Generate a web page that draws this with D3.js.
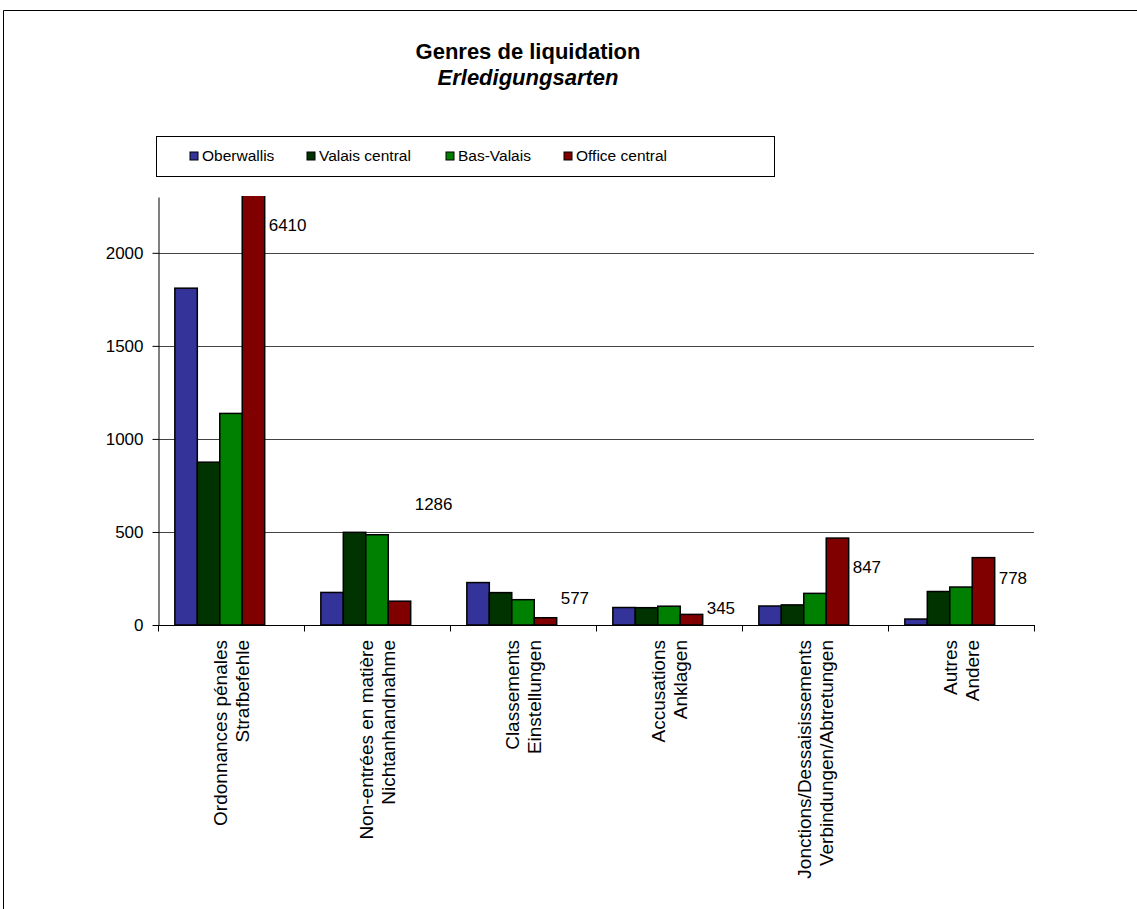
<!DOCTYPE html>
<html>
<head>
<meta charset="utf-8">
<script src="https://cdn.jsdelivr.net/npm/d3@7"></script>
<style>
  body { margin: 0; background: #fff; }
  text { font-family: "Liberation Sans", Arial, sans-serif; fill: #000; }
</style>
</head>
<body>
<div id="chart"></div>
<script>
const categories = [
  ['Ordonnances pénales', 'Strafbefehle'],
  ['Non-entrées en matière', 'Nichtanhandnahme'],
  ['Classements', 'Einstellungen'],
  ['Accusations', 'Anklagen'],
  ['Jonctions/Dessaisissements', 'Verbindungen/Abtretungen'],
  ['Autres', 'Andere']
];
const series = ['Oberwallis', 'Valais central', 'Bas-Valais', 'Office central'];
const oberwallis = [1810, 175, 228, 94, 102, 32];
const valaisCentral = [875, 498, 174, 93, 108, 180];
const basValais = [1137, 485, 136, 101, 170, 204];
const officeCentral = [2588, 128, 39, 57, 467, 362];
const totals = [6410, 1286, 577, 345, 847, 778];
// level (in chart units) where each total label sits
const labelLevel = [2150, 650, 145, 93, 313, 251];
const yTicks = [0, 500, 1000, 1500, 2000];
const colors = ['#333399', '#003300', '#008000', '#800000'];

const values = [oberwallis, valaisCentral, basValais, officeCentral];

const w = 1137, h = 909;
const padLeft = 158, padRight = 1034, padTop = 197, padBottom = 625;

const svg = d3.select('#chart').append('svg')
  .attr('width', w).attr('height', h);

// outer frame
svg.append('path')
  .attr('d', `M3.5,${h} L3.5,10.5 L${w},10.5`)
  .attr('fill', 'none').attr('stroke', '#000').attr('stroke-width', 1);

// title
svg.append('text').attr('x', 528).attr('y', 59).attr('text-anchor', 'middle')
  .style('font-size', '22px').style('font-weight', 'bold')
  .text('Genres de liquidation');
svg.append('text').attr('x', 528).attr('y', 85).attr('text-anchor', 'middle')
  .style('font-size', '22px').style('font-weight', 'bold').style('font-style', 'italic')
  .text('Erledigungsarten');

const x0 = d3.scaleBand()
  .domain(d3.range(categories.length))
  .range([padLeft, padRight]);

// five slots per category (the last one is empty, holds the total label)
const slot = x0.bandwidth() / (5 + 1.5);
const x1 = d3.scaleBand()
  .domain(d3.range(5))
  .range([slot * 0.75, slot * 5.75]);

const y = d3.scaleLinear().domain([0, 2300]).range([padBottom, padTop]);

// gridlines
svg.append('g').selectAll('line')
  .data(yTicks.filter(d => d > 0))
  .enter().append('line')
  .attr('x1', padLeft).attr('x2', padRight)
  .attr('y1', d => Math.round(y(d)) + 0.5).attr('y2', d => Math.round(y(d)) + 0.5)
  .attr('stroke', '#444').attr('stroke-width', 1);

svg.append('clipPath').attr('id', 'plot')
  .append('rect').attr('x', padLeft).attr('y', padTop - 1)
  .attr('width', padRight - padLeft).attr('height', padBottom - padTop + 1);

const bars = svg.append('g').attr('clip-path', 'url(#plot)');
series.forEach((s, si) => {
  bars.append('g').selectAll('rect')
    .data(values[si])
    .enter().append('rect')
    .attr('x', (d, i) => x0(i) + x1(si))
    .attr('y', d => y(d))
    .attr('width', x1.bandwidth())
    .attr('height', d => y(0) - y(d))
    .attr('fill', colors[si])
    .attr('stroke', '#000').attr('stroke-width', 1.5);
});

// total labels
svg.append('g').selectAll('text')
  .data(totals)
  .enter().append('text')
  .attr('x', (d, i) => x0(i) + x1(4) + 4)
  .attr('y', (d, i) => y(labelLevel[i]) + 6)
  .style('font-size', '17px')
  .text(d => d);

// y axis
const yAxis = d3.axisLeft(y).tickValues(yTicks).tickFormat(d3.format('d'))
  .tickSize(6).tickSizeOuter(0).tickPadding(9);
const gy = svg.append('g').attr('transform', `translate(${padLeft + 0.5},0)`).call(yAxis);
gy.select('.domain').attr('stroke', '#000');
gy.selectAll('text').style('font-size', '17px')
  .style('font-family', '"Liberation Sans", Arial, sans-serif');

// x axis
const gx = svg.append('g').attr('transform', `translate(0,${padBottom + 0.5})`);
gx.append('line').attr('x1', padLeft).attr('x2', padRight + 1).attr('stroke', '#000');
gx.selectAll('.tk').data(d3.range(categories.length + 1))
  .enter().append('line').attr('class', 'tk')
  .attr('x1', i => Math.round(padLeft + i * x0.step()) + 0.5)
  .attr('x2', i => Math.round(padLeft + i * x0.step()) + 0.5)
  .attr('y1', 0).attr('y2', 6).attr('stroke', '#000');

const catLabels = svg.append('g').selectAll('g')
  .data(categories)
  .enter().append('g')
  .attr('transform', (d, i) => `translate(${x0(i) + x0.bandwidth() / 2},640) rotate(-90)`);
catLabels.each(function (d) {
  const g = d3.select(this);
  d.forEach((line, li) => {
    g.append('text')
      .attr('x', 0)
      .attr('y', (li - (d.length - 1) / 2) * 22 + 7)
      .attr('text-anchor', 'end')
      .style('font-size', '19px')
      .text(line);
  });
});

// legend
const legend = svg.append('g');
legend.append('rect').attr('x', 156.5).attr('y', 136.5).attr('width', 618).attr('height', 40)
  .attr('fill', '#fff').attr('stroke', '#000').attr('stroke-width', 1);
const legendX = [190, 307, 446, 564];
series.forEach((s, i) => {
  legend.append('rect').attr('x', legendX[i]).attr('y', 152).attr('width', 8).attr('height', 8)
    .attr('fill', colors[i]).attr('stroke', '#000').attr('stroke-width', 1);
  legend.append('text').attr('x', legendX[i] + 12).attr('y', 161)
    .style('font-size', '15.5px').text(s);
});
</script>
</body>
</html>
